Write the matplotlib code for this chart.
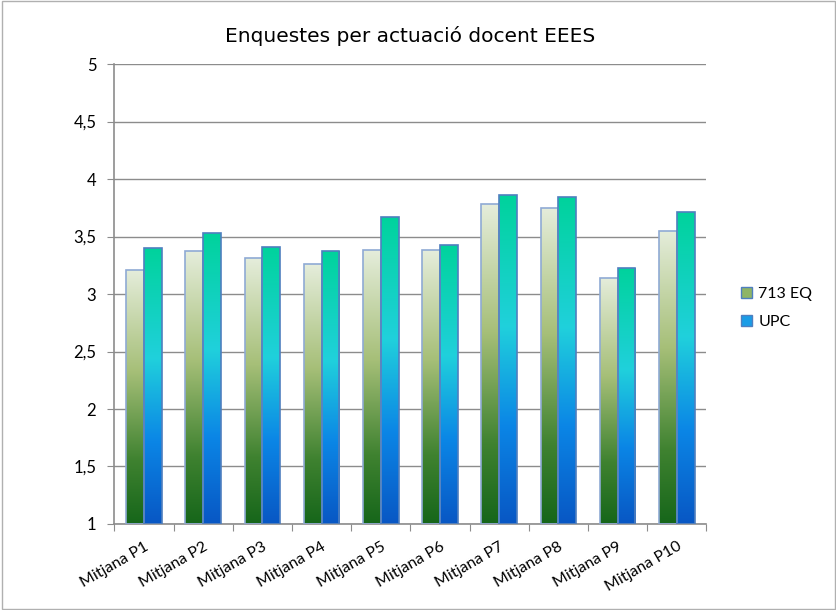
import numpy as np
import matplotlib
matplotlib.use("Agg")
import matplotlib.pyplot as plt
from matplotlib.colors import LinearSegmentedColormap
from matplotlib.patches import Patch, Rectangle

categories = ["Mitjana P1", "Mitjana P2", "Mitjana P3", "Mitjana P4", "Mitjana P5",
              "Mitjana P6", "Mitjana P7", "Mitjana P8", "Mitjana P9", "Mitjana P10"]
eq713 = [3.21, 3.37, 3.31, 3.26, 3.38, 3.38, 3.78, 3.75, 3.14, 3.55]
upc = [3.40, 3.53, 3.41, 3.37, 3.67, 3.43, 3.86, 3.84, 3.23, 3.71]
series_names = ["713 EQ", "UPC"]
yticks = [1, 1.5, 2, 2.5, 3, 3.5, 4, 4.5, 5]
ytick_labels = ["1", "1,5", "2", "2,5", "3", "3,5", "4", "4,5", "5"]

cmap_eq = LinearSegmentedColormap.from_list(
    "eq", [(0.0, "#16661a"), (0.25, "#3f8230"), (0.6, "#a6bf78"), (1.0, "#e5eddb")])
cmap_upc = LinearSegmentedColormap.from_list(
    "upc", [(0.0, "#0857c4"), (0.3, "#0b86e6"), (0.6, "#20d0dc"), (1.0, "#00d39c")])

fig = plt.figure(figsize=(8.37, 6.10), dpi=100)
ax = fig.add_axes([0.1366, 0.141, 0.7074, 0.754])

x = np.arange(len(categories))
w = 0.3
grad = np.linspace(0, 1, 256).reshape(-1, 1)


def gradient_bars(xs, vals, cmap, edge):
    bars = ax.bar(xs, np.array(vals) - 1, w, bottom=1, color="none",
                  edgecolor=edge, linewidth=1.2, zorder=3)
    for b in bars:
        x0, y0 = b.get_x(), b.get_y()
        im = ax.imshow(grad, cmap=cmap, origin="lower", aspect="auto",
                       extent=[x0, x0 + b.get_width(), y0, y0 + b.get_height()],
                       zorder=2)
        im.set_clip_path(b)


gradient_bars(x - w / 2, eq713, cmap_eq, "#8faad4")
gradient_bars(x + w / 2, upc, cmap_upc, "#4f7fbf")

ax.set_xlim(-0.5, len(categories) - 0.5)
ax.set_ylim(1, 5)
ax.set_yticks(yticks)
ax.set_yticklabels(ytick_labels, fontsize=12, family="Lato")
ax.yaxis.grid(True, color="#8c8c8c", linewidth=1)
ax.set_axisbelow(True)

ax.set_xticks(np.arange(len(categories) + 1) - 0.5)
ax.set_xticklabels([])
ax.set_xticks(x, minor=True)
ax.set_xticklabels(categories, minor=True, rotation=30, ha="right",
                   rotation_mode="anchor", fontsize=11.5, family="Lato")
ax.tick_params(axis="x", which="minor", length=0, pad=11)
ax.tick_params(axis="x", which="major", length=5, color="#8c8c8c")
ax.tick_params(axis="y", length=5, color="#8c8c8c", pad=8)

for s in ["top", "right"]:
    ax.spines[s].set_visible(False)
for s in ["left", "bottom"]:
    ax.spines[s].set_color("#8c8c8c")
    ax.spines[s].set_linewidth(1.2)

ax.set_title("Enquestes per actuació docent EEES", fontsize=14.5, pad=16,
             family="DejaVu Sans")

handles = [Patch(facecolor="#8fb566", edgecolor="#4f7fbf"),
           Patch(facecolor="#1a9ce6", edgecolor="#4f7fbf")]
fig.legend(handles, series_names, loc="center left", bbox_to_anchor=(0.868, 0.495),
           frameon=False, prop={"family": "Lato", "size": 11.5},
           handlelength=0.7, handleheight=0.7, handletextpad=0.4, labelspacing=0.9)

fig.patches.append(Rectangle((0.002, 0.002), 0.996, 0.996, transform=fig.transFigure,
                             fill=False, edgecolor="#b0b0b0", linewidth=1))

fig.savefig("out.png", dpi=100)
